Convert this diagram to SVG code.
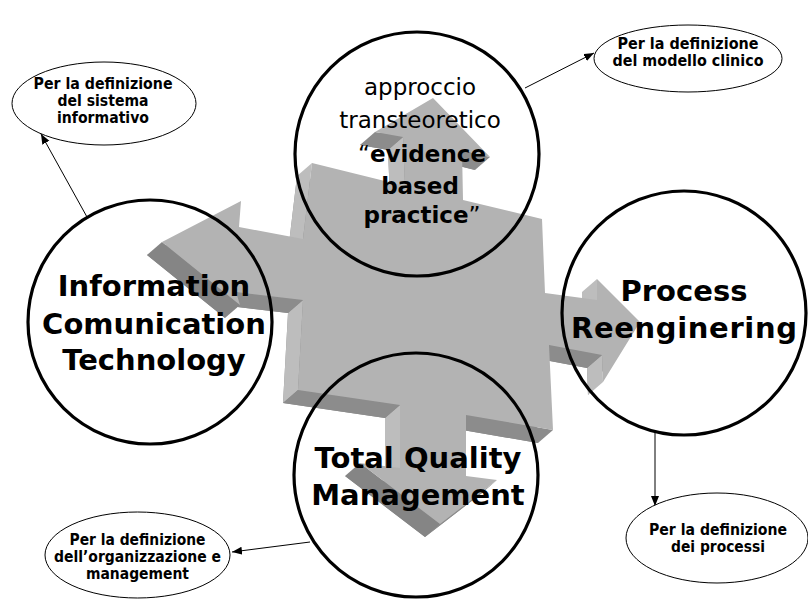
<svg xmlns="http://www.w3.org/2000/svg" xmlns:xlink="http://www.w3.org/1999/xlink" width="808" height="599" viewBox="0 0 808 599">
  <style>
    .top { fill: #b3b3b3; }
    .base { fill: #8c8c8c; }
    .lite { fill: #bdbdbd; }
    .dark { fill: #8c8c8c; }
    .darker { fill: #858585; }
    .hub { fill: none; stroke: #000; stroke-width: 3.2; }
    .note { fill: #fff; stroke: #000; stroke-width: 1; }
    .big { font-family: "DejaVu Sans", Verdana, sans-serif; font-weight: bold; font-size: 29px; fill: #000; text-anchor: middle; }
    .mid { font-family: "DejaVu Sans", Verdana, sans-serif; font-size: 23px; fill: #000; text-anchor: middle; }
    .midb { font-weight: bold; }
    .small { font-family: "DejaVu Sans", Verdana, sans-serif; font-weight: bold; font-size: 15.5px; fill: #000; text-anchor: middle; }
    .link { fill: none; stroke: #000; stroke-width: 1; marker-end: url(#head); }
  </style>
  <defs>
    <marker id="head" markerUnits="userSpaceOnUse" markerWidth="11" markerHeight="9" refX="10" refY="4" orient="auto">
      <path d="M0,0 L10,4 L0,8 z" fill="#000"/>
    </marker>
    <!-- outline of the four-way arrow's upper face -->
    <polygon id="arrowFace" points="162,242 241,201 239,227 303,239 312,163 405,186 403,137 375,132 433,98 490,157 462,150 463,200 542,219 545,293 597,300 597,279 640,322 603,382 602,355 549,345 553,430 466,415 466,476 497,480 440,524 360,463 400,468 400,405 298,390 303,300 236,292 240,305"/>
  </defs>

  <!-- extruded four-way arrow in the background -->
  <g id="arrow3d">
    <use xlink:href="#arrowFace" class="base" transform="translate(-15 13)"/>
    <!-- side walls facing left -->
    <polygon class="lite" points="400,468 400,405 385,418 385,481"/>
    <polygon class="lite" points="298,390 303,300 288,313 283,403"/>
    <polygon class="lite" points="303,239 312,163 297,176 288,252"/>
    <polygon class="lite" points="405,186 403,137 388,150 390,199"/>
    <polygon class="lite" points="597,300 597,279 582,292 582,313"/>
    <polygon class="lite" points="603,382 602,355 587,368 588,395"/>
    <!-- side walls facing down -->
    <polygon class="dark" points="400,405 298,390 283,403 385,418"/>
    <polygon class="dark" points="303,300 236,292 221,305 288,313"/>
    <polygon class="darker" points="240,305 162,242 147,255 225,318"/>
    <polygon class="dark" points="403,137 375,132 360,145 388,150"/>
    <polygon class="dark" points="490,157 462,150 447,163 475,170"/>
    <polygon class="dark" points="602,355 549,345 534,358 587,368"/>
    <polygon class="dark" points="553,430 466,415 451,428 538,443"/>
    <polygon class="darker" points="440,524 360,463 345,476 425,537"/>
    <polygon class="dark" points="497,480 440,524 425,537 482,493"/>
    <use xlink:href="#arrowFace" class="top"/>
  </g>

  <!-- connectors from the hubs to the notes -->
  <g id="connectors">
    <line class="link" x1="87" y1="217" x2="41" y2="134"/>
    <line class="link" x1="525" y1="88" x2="594" y2="53"/>
    <line class="link" x1="310" y1="542" x2="232" y2="552"/>
    <line class="link" x1="655" y1="432" x2="655" y2="506"/>
  </g>

  <g id="hub-ebp">
    <circle class="hub" cx="417" cy="154" r="122"/>
    <text class="mid" x="420" y="95">approccio</text>
    <text class="mid" x="420" y="128">transteoretico</text>
    <text class="mid" x="422" y="162">“<tspan class="midb">evidence</tspan></text>
    <text class="mid midb" x="420" y="194">based</text>
    <text class="mid" x="422" y="223"><tspan class="midb">practice</tspan>”</text>
  </g>

  <g id="hub-ict">
    <circle class="hub" cx="150" cy="322" r="122"/>
    <text class="big" x="154" y="296">Information</text>
    <text class="big" x="154" y="334">Comunication</text>
    <text class="big" x="154" y="370">Technology</text>
  </g>

  <g id="hub-process">
    <circle class="hub" cx="684" cy="313" r="122"/>
    <text class="big" x="684" y="301">Process</text>
    <text class="big" x="684" y="338" textLength="226" lengthAdjust="spacing">Reenginering</text>
  </g>

  <g id="hub-tqm">
    <circle class="hub" cx="416" cy="475" r="122"/>
    <text class="big" x="418" y="468">Total Quality</text>
    <text class="big" x="418" y="505">Management</text>
  </g>

  <g id="note-sistema">
    <ellipse class="note" cx="104" cy="103.5" rx="92" ry="41.5"/>
    <text class="small" x="103" y="89" textLength="139" lengthAdjust="spacingAndGlyphs">Per la definizione</text>
    <text class="small" x="103" y="106" textLength="91" lengthAdjust="spacingAndGlyphs">del sistema</text>
    <text class="small" x="103" y="123" textLength="92" lengthAdjust="spacingAndGlyphs">informativo</text>
  </g>

  <g id="note-clinico">
    <ellipse class="note" cx="688" cy="58.5" rx="94" ry="33.5"/>
    <text class="small" x="688" y="49" textLength="141" lengthAdjust="spacingAndGlyphs">Per la definizione</text>
    <text class="small" x="688" y="66" textLength="151" lengthAdjust="spacingAndGlyphs">del modello clinico</text>
  </g>

  <g id="note-organizzazione">
    <ellipse class="note" cx="137.5" cy="555" rx="92.5" ry="43"/>
    <text class="small" x="137.5" y="545" textLength="136" lengthAdjust="spacingAndGlyphs">Per la definizione</text>
    <text class="small" x="137.5" y="562" textLength="167" lengthAdjust="spacingAndGlyphs">dell’organizzazione e</text>
    <text class="small" x="137.5" y="579" textLength="103" lengthAdjust="spacingAndGlyphs">management</text>
  </g>

  <g id="note-processi">
    <ellipse class="note" cx="717" cy="538" rx="91" ry="45"/>
    <text class="small" x="718" y="535" textLength="138" lengthAdjust="spacingAndGlyphs">Per la definizione</text>
    <text class="small" x="718" y="552" textLength="94" lengthAdjust="spacingAndGlyphs">dei processi</text>
  </g>
</svg>
